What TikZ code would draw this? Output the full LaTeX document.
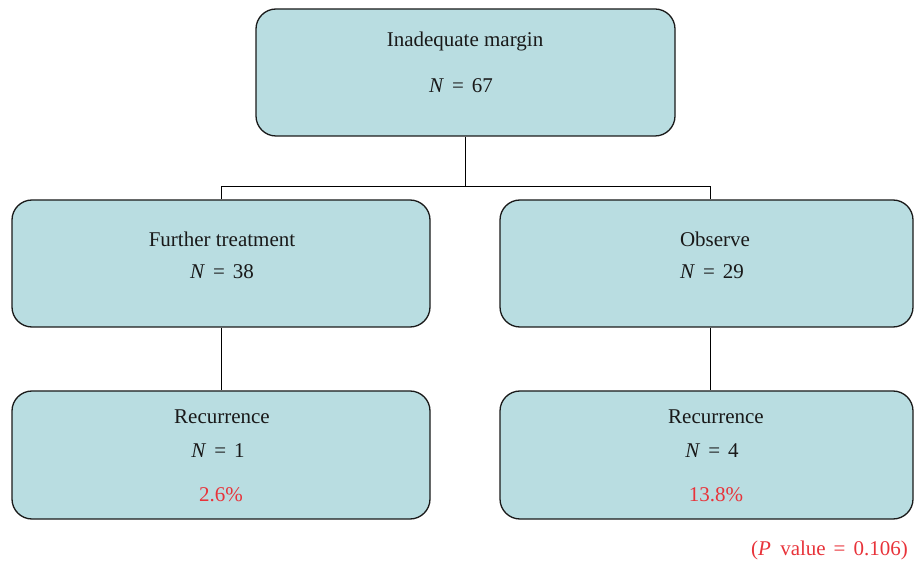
\documentclass[tikz,border=0pt]{standalone}
\usepackage{fontspec}
\setmainfont{Liberation Serif}
\definecolor{boxfill}{HTML}{B9DDE1}
\definecolor{boxline}{HTML}{1A1A1A}
\definecolor{pred}{HTML}{E8333A}
\newcommand{\eqsp}{\hspace{0.38em}=\hspace{0.38em}}
\tikzset{
  flowbox/.style={draw=boxline, line width=1.3pt, fill=boxfill, rounded corners=20pt, inner sep=0pt},
  txt/.style={anchor=base, inner sep=0pt, font=\fontsize{21}{24}\selectfont, text=black!90},
  redtxt/.style={txt, text=pred},
  conn/.style={draw=black, line width=1pt}
}
\begin{document}
\begin{tikzpicture}[x=1pt, y=-1pt]
\useasboundingbox (0,0) rectangle (914,561);
% boxes
\node[flowbox, minimum width=419pt, minimum height=127pt] (top) at (465.5,72.5) {};
\node[flowbox, minimum width=418pt, minimum height=127pt] (lm) at (221,263.5) {};
\node[flowbox, minimum width=413pt, minimum height=127pt] (rm) at (706.5,263.5) {};
\node[flowbox, minimum width=418pt, minimum height=128pt] (lb) at (221,455) {};
\node[flowbox, minimum width=413pt, minimum height=128pt] (rb) at (706.5,455) {};
% connectors
\coordinate (j) at (465.5,187);
\draw[conn] (top.south) -- (j);
\draw[conn] (lm.north) -- ++(0,-13) -| ([xshift=3.5pt]rm.north);
\draw[conn] (lm.south) -- (lb.north);
\draw[conn] ([xshift=3.5pt]rm.south) -- ([xshift=3.5pt]rb.north);
% texts
\node[txt] (t1) at (465,47) {Inadequate margin};
\node[txt] (t2) at (461,93) {\textit{N}\eqsp67};
\node[txt] (l1) at (222,247) {Further treatment};
\node[txt] (l2) at (222,279) {\textit{N}\eqsp38};
\node[txt] (r1) at (715,247) {Observe};
\node[txt] (r2) at (712,279) {\textit{N}\eqsp29};
\node[txt] (lb1) at (222,424) {Recurrence};
\node[txt] (lb2) at (218,457) {\textit{N}\eqsp1};
\node[redtxt] (lb3) at (221,502) {2.6\%};
\node[txt] (rb1) at (716,424) {Recurrence};
\node[txt] (rb2) at (712,457) {\textit{N}\eqsp4};
\node[redtxt] (rb3) at (716,502) {13.8\%};
\node[redtxt, anchor=base east] (pv) at (908,555) {(\textit{P}\hspace{0.45em}value\eqsp0.106)};
\end{tikzpicture}
\end{document}
